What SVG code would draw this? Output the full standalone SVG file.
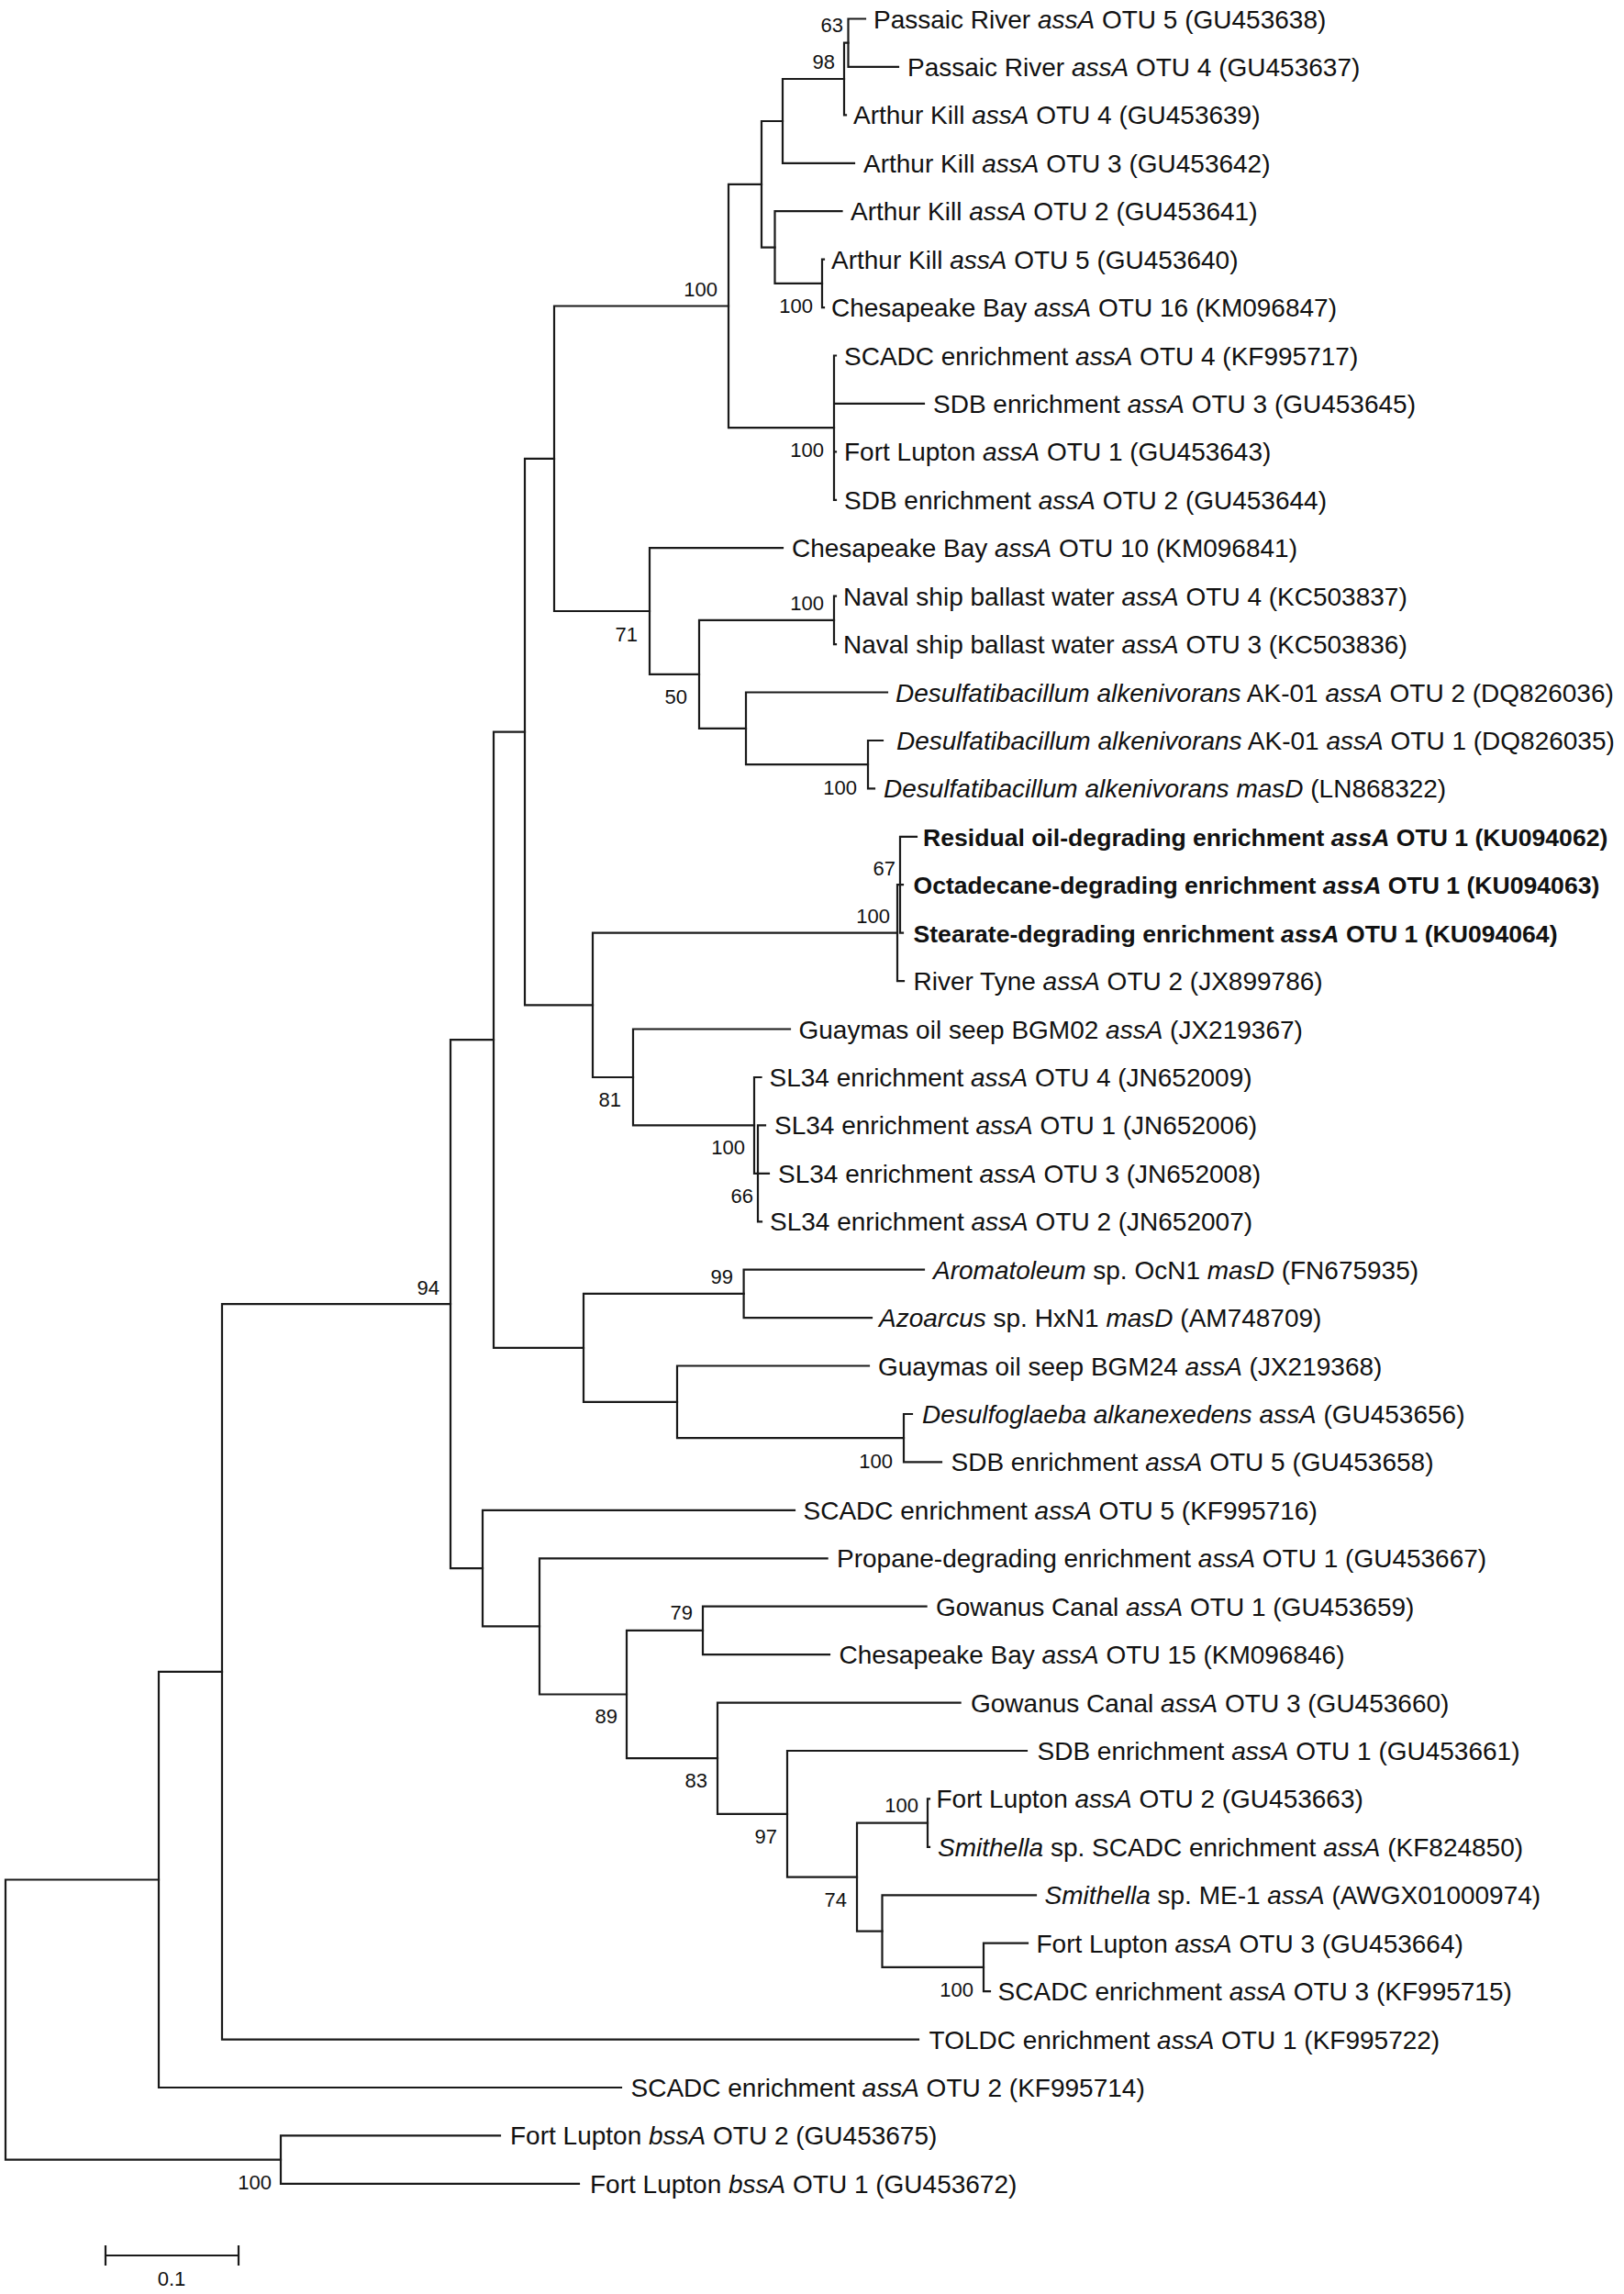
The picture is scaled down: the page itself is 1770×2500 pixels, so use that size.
<svg xmlns="http://www.w3.org/2000/svg" width="1770" height="2500" viewBox="0 0 1770 2500">
<style>
.br{fill:none;stroke:#1a1a1a;stroke-width:2.2;stroke-linecap:square}
.lf{font-family:"Liberation Sans",Arial,sans-serif;font-size:28px;fill:#111}
.bd{font-weight:bold;font-size:26.6px}
.bs{font-family:"Liberation Sans",Arial,sans-serif;font-size:22px;fill:#111;text-anchor:end}
.it{font-style:italic}
</style>
<rect width="1770" height="2500" fill="#fff"/>
<g id="connectors">
<path class="br" d="M924.5 20.5V72.9M924.5 20.5H943M924.5 72.9H979"/>
<path class="br" d="M920 46.7V125.4M920 46.7H924.5M920 125.4H922"/>
<path class="br" d="M853 86V177.8M853 86H920M853 177.8H931"/>
<path class="br" d="M830 132V269.6M830 132H853M830 269.6H844.5"/>
<path class="br" d="M844.5 230.2V308.9M844.5 230.2H917.5M844.5 308.9H896"/>
<path class="br" d="M896 282.7V335.1M896 282.7H898M896 335.1H898"/>
<path class="br" d="M794 200.8V466.2M794 200.8H830M794 466.2H909"/>
<path class="br" d="M909 387.5V544.8M909 387.5H911M909 439.9H1007M909 492.4H911M909 544.8H911"/>
<path class="br" d="M604 333.5V666M604 333.5H794M604 666H708"/>
<path class="br" d="M708 597.2V734.9M708 597.2H853M708 734.9H762"/>
<path class="br" d="M762 675.9V793.9M762 675.9H909M762 793.9H813"/>
<path class="br" d="M909 649.7V702.1M909 649.7H911M909 702.1H911"/>
<path class="br" d="M813 754.5V833.2M813 754.5H967M813 833.2H946"/>
<path class="br" d="M946 807V859.4M946 807H962M946 859.4H953"/>
<path class="br" d="M572 499.8V1095.3M572 499.8H604M572 1095.3H646"/>
<path class="br" d="M646 1016.7V1174M646 1016.7H978M646 1174H690"/>
<path class="br" d="M978 964.2V1069.1M978 964.2H981M978 1069.1H985"/>
<path class="br" d="M981 911.8V1016.7M981 911.8H999M981 964.2H984M981 1016.7H984"/>
<path class="br" d="M690 1121.5V1226.4M690 1121.5H861M690 1226.4H822"/>
<path class="br" d="M822 1174V1278.8M822 1174H829.5M822 1278.8H826"/>
<path class="br" d="M826 1226.4V1331.3M826 1226.4H834M826 1278.8H838M826 1331.3H830"/>
<path class="br" d="M538 797.6V1468.9M538 797.6H572M538 1468.9H636"/>
<path class="br" d="M636 1409.9V1527.9M636 1409.9H810.6M636 1527.9H738"/>
<path class="br" d="M810.6 1383.7V1436.1M810.6 1383.7H1007M810.6 1436.1H950"/>
<path class="br" d="M738 1488.5V1567.2M738 1488.5H947M738 1567.2H985"/>
<path class="br" d="M985 1541V1593.4M985 1541H994M985 1593.4H1026"/>
<path class="br" d="M491 1133.2V1709.1M491 1133.2H538M491 1709.1H526"/>
<path class="br" d="M526 1645.8V1772.4M526 1645.8H866M526 1772.4H588"/>
<path class="br" d="M588 1698.3V1846.5M588 1698.3H901.6M588 1846.5H683"/>
<path class="br" d="M683 1776.9V1916.2M683 1776.9H766M683 1916.2H782"/>
<path class="br" d="M766 1750.7V1803.1M766 1750.7H1009.6M766 1803.1H904"/>
<path class="br" d="M782 1855.6V1976.8M782 1855.6H1046.6M782 1976.8H858"/>
<path class="br" d="M858 1908V2045.6M858 1908H1119M858 2045.6H934"/>
<path class="br" d="M934 1986.6V2104.6M934 1986.6H1011M934 2104.6H961.5"/>
<path class="br" d="M1011 1960.4V2012.8M1011 1960.4H1013M1011 2012.8H1013"/>
<path class="br" d="M961.5 2065.3V2143.9M961.5 2065.3H1129M961.5 2143.9H1072"/>
<path class="br" d="M1072 2117.7V2170.1M1072 2117.7H1120M1072 2170.1H1079"/>
<path class="br" d="M242 1421.2V2222.6M242 1421.2H491M242 2222.6H1001"/>
<path class="br" d="M173 1821.9V2275M173 1821.9H242M173 2275H677"/>
<path class="br" d="M306 2327.4V2379.9M306 2327.4H545M306 2379.9H631"/>
<path class="br" d="M6 2048.5V2353.6M6 2048.5H173M6 2353.6H306"/>
</g>
<g id="bootstrap">
<text class="bs" x="919" y="34.7">63</text>
<text class="bs" x="910" y="74.7">98</text>
<text class="bs" x="782" y="323">100</text>
<text class="bs" x="886" y="341">100</text>
<text class="bs" x="898" y="498">100</text>
<text class="bs" x="695" y="698.7">71</text>
<text class="bs" x="898" y="664.7">100</text>
<text class="bs" x="749" y="767">50</text>
<text class="bs" x="934" y="866">100</text>
<text class="bs" x="976" y="954">67</text>
<text class="bs" x="970" y="1006">100</text>
<text class="bs" x="677" y="1206">81</text>
<text class="bs" x="812" y="1258">100</text>
<text class="bs" x="821" y="1311">66</text>
<text class="bs" x="479" y="1410.7">94</text>
<text class="bs" x="799" y="1398.7">99</text>
<text class="bs" x="973" y="1599.7">100</text>
<text class="bs" x="755" y="1765">79</text>
<text class="bs" x="673" y="1878">89</text>
<text class="bs" x="771" y="1948">83</text>
<text class="bs" x="847" y="2008.7">97</text>
<text class="bs" x="1001" y="1975">100</text>
<text class="bs" x="923" y="2078">74</text>
<text class="bs" x="1061" y="2176">100</text>
<text class="bs" x="296" y="2386">100</text>
</g>
<g id="leaf0"><text class="lf" x="952" y="30.5">Passaic River <tspan class="it">assA</tspan> OTU 5 (GU453638)</text></g>
<g id="leaf1"><text class="lf" x="989" y="82.9">Passaic River <tspan class="it">assA</tspan> OTU 4 (GU453637)</text></g>
<g id="leaf2"><text class="lf" x="930" y="135.4">Arthur Kill <tspan class="it">assA</tspan> OTU 4 (GU453639)</text></g>
<g id="leaf3"><text class="lf" x="941" y="187.8">Arthur Kill <tspan class="it">assA</tspan> OTU 3 (GU453642)</text></g>
<g id="leaf4"><text class="lf" x="927" y="240.2">Arthur Kill <tspan class="it">assA</tspan> OTU 2 (GU453641)</text></g>
<g id="leaf5"><text class="lf" x="906" y="292.7">Arthur Kill <tspan class="it">assA</tspan> OTU 5 (GU453640)</text></g>
<g id="leaf6"><text class="lf" x="906" y="345.1">Chesapeake Bay <tspan class="it">assA</tspan> OTU 16 (KM096847)</text></g>
<g id="leaf7"><text class="lf" x="920" y="397.5">SCADC enrichment <tspan class="it">assA</tspan> OTU 4 (KF995717)</text></g>
<g id="leaf8"><text class="lf" x="1017" y="449.9">SDB enrichment <tspan class="it">assA</tspan> OTU 3 (GU453645)</text></g>
<g id="leaf9"><text class="lf" x="920" y="502.4">Fort Lupton <tspan class="it">assA</tspan> OTU 1 (GU453643)</text></g>
<g id="leaf10"><text class="lf" x="920" y="554.8">SDB enrichment <tspan class="it">assA</tspan> OTU 2 (GU453644)</text></g>
<g id="leaf11"><text class="lf" x="863" y="607.2">Chesapeake Bay <tspan class="it">assA</tspan> OTU 10 (KM096841)</text></g>
<g id="leaf12"><text class="lf" x="919" y="659.7">Naval ship ballast water <tspan class="it">assA</tspan> OTU 4 (KC503837)</text></g>
<g id="leaf13"><text class="lf" x="919" y="712.1">Naval ship ballast water <tspan class="it">assA</tspan> OTU 3 (KC503836)</text></g>
<g id="leaf14"><text class="lf" x="976" y="764.5"><tspan class="it">Desulfatibacillum alkenivorans</tspan> AK-01 <tspan class="it">assA</tspan> OTU 2 (DQ826036)</text></g>
<g id="leaf15"><text class="lf" x="977" y="817"><tspan class="it">Desulfatibacillum alkenivorans</tspan> AK-01 <tspan class="it">assA</tspan> OTU 1 (DQ826035)</text></g>
<g id="leaf16"><text class="lf" x="963" y="869.4"><tspan class="it">Desulfatibacillum alkenivorans masD</tspan> (LN868322)</text></g>
<g id="leaf17"><text class="lf bd" x="1006" y="921.8">Residual oil-degrading enrichment <tspan class="it">assA</tspan> OTU 1 (KU094062)</text></g>
<g id="leaf18"><text class="lf bd" x="995.5" y="974.2">Octadecane-degrading enrichment <tspan class="it">assA</tspan> OTU 1 (KU094063)</text></g>
<g id="leaf19"><text class="lf bd" x="995.5" y="1026.7">Stearate-degrading enrichment <tspan class="it">assA</tspan> OTU 1 (KU094064)</text></g>
<g id="leaf20"><text class="lf" x="995.5" y="1079.1">River Tyne <tspan class="it">assA</tspan> OTU 2 (JX899786)</text></g>
<g id="leaf21"><text class="lf" x="870.5" y="1131.5">Guaymas oil seep BGM02 <tspan class="it">assA</tspan> (JX219367)</text></g>
<g id="leaf22"><text class="lf" x="838.5" y="1184">SL34 enrichment <tspan class="it">assA</tspan> OTU 4 (JN652009)</text></g>
<g id="leaf23"><text class="lf" x="844" y="1236.4">SL34 enrichment <tspan class="it">assA</tspan> OTU 1 (JN652006)</text></g>
<g id="leaf24"><text class="lf" x="848" y="1288.8">SL34 enrichment <tspan class="it">assA</tspan> OTU 3 (JN652008)</text></g>
<g id="leaf25"><text class="lf" x="839" y="1341.3">SL34 enrichment <tspan class="it">assA</tspan> OTU 2 (JN652007)</text></g>
<g id="leaf26"><text class="lf" x="1017" y="1393.7"><tspan class="it">Aromatoleum</tspan> sp. OcN1 <tspan class="it">masD</tspan> (FN675935)</text></g>
<g id="leaf27"><text class="lf" x="958" y="1446.1"><tspan class="it">Azoarcus</tspan> sp. HxN1 <tspan class="it">masD</tspan> (AM748709)</text></g>
<g id="leaf28"><text class="lf" x="957" y="1498.5">Guaymas oil seep BGM24 <tspan class="it">assA</tspan> (JX219368)</text></g>
<g id="leaf29"><text class="lf" x="1005" y="1551"><tspan class="it">Desulfoglaeba alkanexedens assA</tspan> (GU453656)</text></g>
<g id="leaf30"><text class="lf" x="1036.5" y="1603.4">SDB enrichment <tspan class="it">assA</tspan> OTU 5 (GU453658)</text></g>
<g id="leaf31"><text class="lf" x="875.5" y="1655.8">SCADC enrichment <tspan class="it">assA</tspan> OTU 5 (KF995716)</text></g>
<g id="leaf32"><text class="lf" x="912" y="1708.3">Propane-degrading enrichment <tspan class="it">assA</tspan> OTU 1 (GU453667)</text></g>
<g id="leaf33"><text class="lf" x="1020" y="1760.7">Gowanus Canal <tspan class="it">assA</tspan> OTU 1 (GU453659)</text></g>
<g id="leaf34"><text class="lf" x="914.5" y="1813.1">Chesapeake Bay <tspan class="it">assA</tspan> OTU 15 (KM096846)</text></g>
<g id="leaf35"><text class="lf" x="1058" y="1865.6">Gowanus Canal <tspan class="it">assA</tspan> OTU 3 (GU453660)</text></g>
<g id="leaf36"><text class="lf" x="1130.5" y="1918">SDB enrichment <tspan class="it">assA</tspan> OTU 1 (GU453661)</text></g>
<g id="leaf37"><text class="lf" x="1020.5" y="1970.4">Fort Lupton <tspan class="it">assA</tspan> OTU 2 (GU453663)</text></g>
<g id="leaf38"><text class="lf" x="1022" y="2022.8"><tspan class="it">Smithella</tspan> sp. SCADC enrichment <tspan class="it">assA</tspan> (KF824850)</text></g>
<g id="leaf39"><text class="lf" x="1138.6" y="2075.3"><tspan class="it">Smithella</tspan> sp. ME-1 <tspan class="it">assA</tspan> (AWGX01000974)</text></g>
<g id="leaf40"><text class="lf" x="1129.5" y="2127.7">Fort Lupton <tspan class="it">assA</tspan> OTU 3 (GU453664)</text></g>
<g id="leaf41"><text class="lf" x="1087.6" y="2180.1">SCADC enrichment <tspan class="it">assA</tspan> OTU 3 (KF995715)</text></g>
<g id="leaf42"><text class="lf" x="1012.6" y="2232.6">TOLDC enrichment <tspan class="it">assA</tspan> OTU 1 (KF995722)</text></g>
<g id="leaf43"><text class="lf" x="687.5" y="2285">SCADC enrichment <tspan class="it">assA</tspan> OTU 2 (KF995714)</text></g>
<g id="leaf44"><text class="lf" x="556" y="2337.4">Fort Lupton <tspan class="it">bssA</tspan> OTU 2 (GU453675)</text></g>
<g id="leaf45"><text class="lf" x="643" y="2389.9">Fort Lupton <tspan class="it">bssA</tspan> OTU 1 (GU453672)</text></g>
<g id="scale-bar">
<path class="br" d="M115 2458H260M115 2448V2468M260 2448V2468"/>
<text class="bs" x="187" y="2491" style="text-anchor:middle">0.1</text>
</g>
</svg>
